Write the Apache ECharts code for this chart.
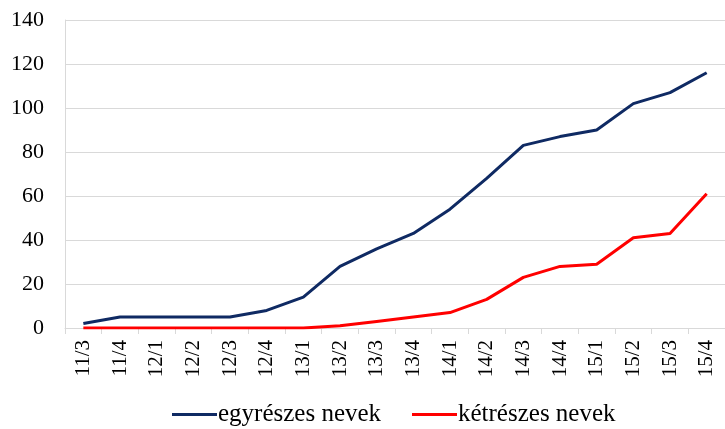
<!DOCTYPE html>
<html><head><meta charset="utf-8">
<script src="https://cdn.jsdelivr.net/npm/echarts@6/dist/echarts.min.js"></script>
<style>html,body{margin:0;padding:0;background:#fff}#c{width:725px;height:429px}</style>
</head><body><div id="c"></div>
<script>
const categories = ['11/3','11/4','12/1','12/2','12/3','12/4','13/1','13/2','13/3','13/4','14/1','14/2','14/3','14/4','15/1','15/2','15/3','15/4'];
const egyreszes = [2,5,5,5,5,8,14,28,36,43,54,68,83,87,90,102,107,116];
const ketreszes = [0,0,0,0,0,0,0,1,3,5,7,13,23,28,29,41,43,61];
const seriesNames = ['egyrészes nevek','kétrészes nevek'];
const yTicks = {min:0, max:140, interval:20};

const chart = echarts.init(document.getElementById('c'));
const font = 'Liberation Serif, Times New Roman, serif';
const legendBase = {
  top:402, itemWidth:45, itemHeight:3, icon:'rect', padding:0,
  textStyle:{fontFamily:font, fontSize:25, color:'#000', padding:[0,0,8,-4]}
};
chart.setOption({
  animation:false,
  grid:{left:65, right:-3, top:20, bottom:101},
  legend:[
    Object.assign({}, legendBase, {left:172, data:[seriesNames[0]]}),
    Object.assign({}, legendBase, {left:412, data:[seriesNames[1]]})
  ],
  xAxis:{
    type:'category', data:categories, boundaryGap:true,
    axisLine:{lineStyle:{color:'#d9d9d9'}},
    axisTick:{show:true, length:6, lineStyle:{color:'#d9d9d9'}},
    axisLabel:{rotate:90, fontFamily:font, fontSize:21, color:'#000', margin:12, interval:0}
  },
  yAxis:{
    type:'value', min:yTicks.min, max:yTicks.max, interval:yTicks.interval,
    axisLine:{show:true, lineStyle:{color:'#d9d9d9'}},
    axisTick:{show:false},
    splitLine:{lineStyle:{color:'#d9d9d9', width:1}},
    axisLabel:{fontFamily:font, fontSize:22, color:'#000', margin:21}
  },
  series:[
    {name:seriesNames[0], type:'line', data:egyreszes, symbol:'none', lineStyle:{color:'#0f2a63', width:3}, itemStyle:{color:'#0f2a63'}},
    {name:seriesNames[1], type:'line', data:ketreszes, symbol:'none', lineStyle:{color:'#ff0000', width:3}, itemStyle:{color:'#ff0000'}}
  ]
});
</script></body></html>
